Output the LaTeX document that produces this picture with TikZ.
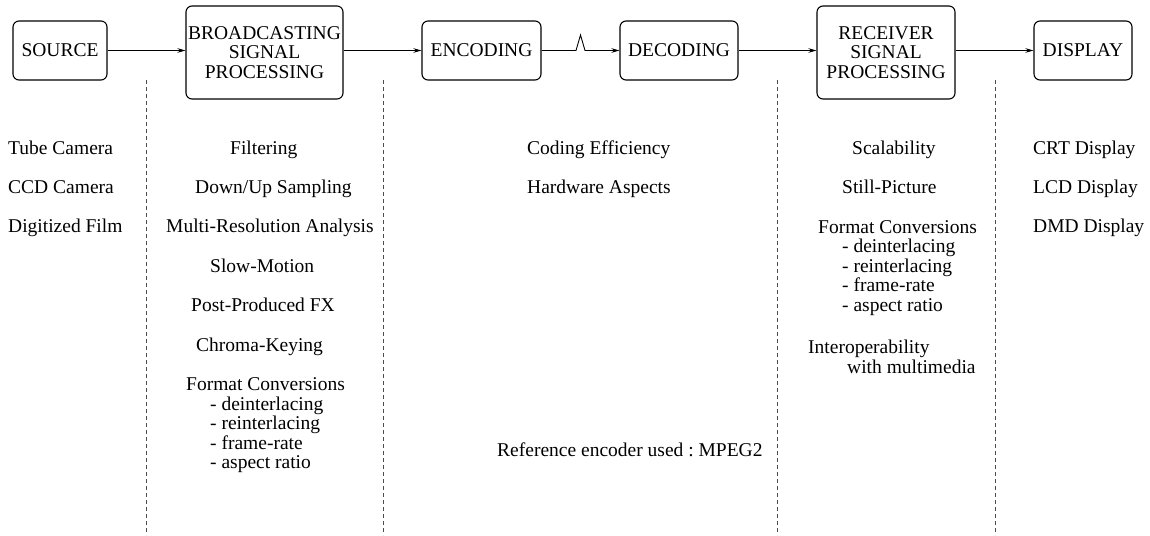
\documentclass[tikz,border=0pt]{standalone}
\usepackage{fontspec}
\setmainfont{Liberation Serif}
\usetikzlibrary{arrows.meta}
\frenchspacing
\begin{document}
\begin{tikzpicture}[x=1pt,y=-1pt,
  every node/.style={font=\fontsize{19.5}{19.6}\selectfont},
  stage/.style={draw, line width=1.1pt, rounded corners=6pt, align=center, inner sep=0pt},
  flow/.style={line width=0.9pt, -{Stealth[length=8pt,width=4.5pt,inset=2.5pt]}},
  divider/.style={line width=0.9pt, draw=black!70, dash pattern=on 4pt off 3pt},
  item/.style={anchor=base west, inner sep=0pt}]
\useasboundingbox (0,0) rectangle (1150,535);

% processing chain
\node[stage, minimum width=94pt,  minimum height=59pt] (src) at (60,50.5)   {SOURCE};
\node[stage, minimum width=157pt, minimum height=93pt] (bsp) at (264.5,52.5) {BROADCASTING\\SIGNAL\\PROCESSING};
\node[stage, minimum width=119pt, minimum height=59pt] (enc) at (481.5,50.5) {ENCODING};
\node[stage, minimum width=118pt, minimum height=59pt] (dec) at (679,50.5)  {DECODING};
\node[stage, minimum width=138pt, minimum height=93pt] (rsp) at (886,52.5)  {RECEIVER\\SIGNAL\\PROCESSING};
\node[stage, minimum width=98pt,  minimum height=59pt] (dsp) at (1083,50.5) {DISPLAY};

\coordinate (tx) at (576,50.5);
\coordinate (pk) at (580.5,35);
\coordinate (rx) at (585,50.5);

\draw[flow] (src.east) -- (bsp.west |- src.east);
\draw[flow] (bsp.east |- enc.west) -- (enc.west);
\draw[flow] (enc.east) -- (tx) -- (pk) -- (rx) -- (dec.west);
\draw[flow] (dec.east) -- (rsp.west |- dec.east);
\draw[flow] (rsp.east |- dsp.west) -- (dsp.west);

% column separators
\coordinate (d1t) at (146,80);  \coordinate (d1b) at (146,535);
\coordinate (d2t) at (383,80);  \coordinate (d2b) at (383,535);
\coordinate (d3t) at (777,80);  \coordinate (d3b) at (777,535);
\coordinate (d4t) at (995,80);  \coordinate (d4b) at (995,535);
\draw[divider] (d1t) -- (d1b);
\draw[divider] (d2t) -- (d2b);
\draw[divider] (d3t) -- (d3b);
\draw[divider] (d4t) -- (d4b);

% source column
\node[item] (s1) at (8,154)   {Tube Camera};
\node[item] (s2) at (8,193.5) {CCD Camera};
\node[item] (s3) at (8,232.5) {Digitized Film};

% broadcasting column
\node[item] (b1) at (230,154)   {Filtering};
\node[item] (b2) at (195,193.5) {Down/Up Sampling};
\node[item] (b3) at (166,232.5) {Multi-Resolution Analysis};
\node[item] (b4) at (210,272)   {Slow-Motion};
\node[item] (b5) at (191,311.5) {Post-Produced FX};
\node[item] (b6) at (196,351)   {Chroma-Keying};
\node[item] (b7) at (186,390.5) {Format Conversions};
\node[item] (b8) at (210,410)   {- deinterlacing};
\node[item] (b9) at (210,429.5) {- reinterlacing};
\node[item] (b10) at (210,449) {- frame-rate};
\node[item] (b11) at (210,468.5) {- aspect ratio};

% coding column
\node[item] (c1) at (527,154)   {Coding Efficiency};
\node[item] (c2) at (527,193.5) {Hardware Aspects};
\node[item] (c3) at (497,456) {Reference encoder used : MPEG2};

% receiver column
\node[item] (r1) at (852,154)   {Scalability};
\node[item] (r2) at (842,193.5) {Still-Picture};
\node[item] (r3) at (818,233)   {Format Conversions};
\node[item] (r4) at (842,252.5) {- deinterlacing};
\node[item] (r5) at (842,272)   {- reinterlacing};
\node[item] (r6) at (842,291.5) {- frame-rate};
\node[item] (r7) at (842,311)   {- aspect ratio};
\node[item] (r8) at (808,353.5) {Interoperability};
\node[item] (r9) at (847,373)   {with multimedia};

% display column
\node[item] (p1) at (1033,154)   {CRT Display};
\node[item] (p2) at (1033,193.5) {LCD Display};
\node[item] (p3) at (1033,232.5) {DMD Display};
\end{tikzpicture}
\end{document}
